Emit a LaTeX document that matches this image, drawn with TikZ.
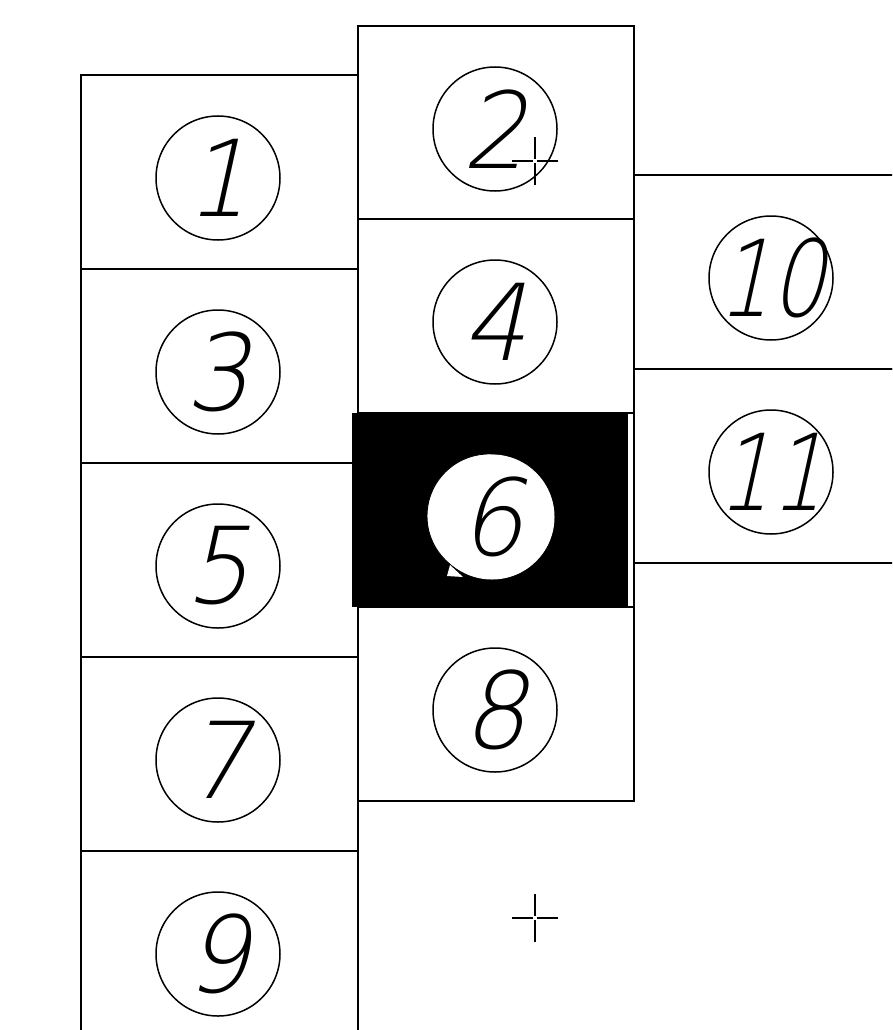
\documentclass[tikz,border=0pt]{standalone}
\usepackage{fontspec}
\usetikzlibrary{calc}
\IfFontExistsTF{DejaVu Sans ExtraLight}{%
  \newfontfamily\cadfont{DejaVu Sans ExtraLight}[FakeSlant=0.22,FakeStretch=0.95]%
  \newfontfamily\cadfontn{DejaVu Sans ExtraLight}[FakeSlant=0.22,FakeStretch=0.8]%
  \newcommand{\cadsize}{\fontsize{106}{106}\selectfont}}{%
  \newfontfamily\cadfont{Latin Modern Sans}[FakeSlant=0.2]%
  \newfontfamily\cadfontn{Latin Modern Sans}[FakeSlant=0.2]%
  \newcommand{\cadsize}{\fontsize{116}{116}\selectfont}}
\tikzset{
  cell/.style={draw, line width=1.6pt, rectangle, inner sep=0pt, anchor=north west,
    minimum width=277pt, minimum height=194pt},
  ring/.style={draw, circle, line width=1.5pt, minimum size=124pt, inner sep=0pt, fill=white},
  numtxt/.style={inner sep=0pt, font=\cadsize\cadfont},
  numtxtn/.style={inner sep=0pt, font=\cadsize\cadfontn},
  cross/.style={line width=1.4pt}
}
\newcommand{\zb}[1]{\makebox[0pt]{#1}}
\begin{document}
\begin{tikzpicture}[x=1pt,y=-1pt]
\clip (0,0) rectangle (892,1030);
\fill[white] (0,0) rectangle (892,1030);
% column 1
\node[cell] (b1) at (80,74) {};
\node[cell] (b3) at (80,268) {};
\node[cell] (b5) at (80,462) {};
\node[cell] (b7) at (80,656) {};
\node[cell] (b9) at (80,850) {};
% column 2
\node[cell, minimum width=276pt, minimum height=193pt] (b2) at (357,25) {};
\node[cell, minimum width=276pt] (b4) at (357,218) {};
\node[cell, minimum width=276pt] (b6) at (357,412) {};
\node[cell, minimum width=276pt] (b8) at (357,606) {};
\node[rectangle, fill=black, inner sep=0pt, anchor=north west, minimum width=276pt, minimum height=194pt] (b6fill) at (352,413) {};
% column 3
\node[cell, minimum width=300pt] (b10) at (633,174) {};
\node[cell, minimum width=300pt] (b11) at (633,368) {};
% circles
\node[ring] (c1) at (218,178) {};
\node[ring] (c3) at (218,372) {};
\node[ring] (c5) at (218,566) {};
\node[ring] (c7) at (218,760) {};
\node[ring] (c9) at (218,954) {};
\node[ring] (c2) at (495,129) {};
\node[ring] (c4) at (495,322) {};
\node[ring, line width=0.9pt] (c6g) at (489,516) {};
\fill[white] (447,576) -- (450,565) -- (463,577) -- cycle;
\node[ring, draw=white, line width=1pt] (c6) at (492,517) {};
\node[ring] (c8) at (495,710) {};
\node[ring] (c10) at (771,278) {};
\node[ring] (c11) at (771,472) {};
% numbers
\node[numtxt] at (c1) {\zb{1}};
\node[numtxt] at (c2) {\zb{2}};
\node[numtxt] at (c3) {\zb{3}};
\node[numtxt] at (c4) {\zb{4}};
\node[numtxt] at (c5) {\zb{5}};
\node[numtxt] at (c6) {\zb{6}};
\node[numtxt] at (c7) {\zb{7}};
\node[numtxt] at (c8) {\zb{8}};
\node[numtxt] at (c9) {\zb{9}};
\node[numtxtn] at (c10) {\zb{10}};
\node[numtxtn] at (c11) {\zb{11}};
% crosshairs
\coordinate (x1) at (535,161);
\coordinate (x2) at (535,918);
\foreach \c in {x1,x2}{
  \draw[cross] (\c) ++(-23,0) -- ++(21,0);
  \draw[cross] (\c) ++(2,0) -- ++(21,0);
  \draw[cross] (\c) ++(0,-24) -- ++(0,22);
  \draw[cross] (\c) ++(0,2) -- ++(0,22);
}
\end{tikzpicture}
\end{document}
